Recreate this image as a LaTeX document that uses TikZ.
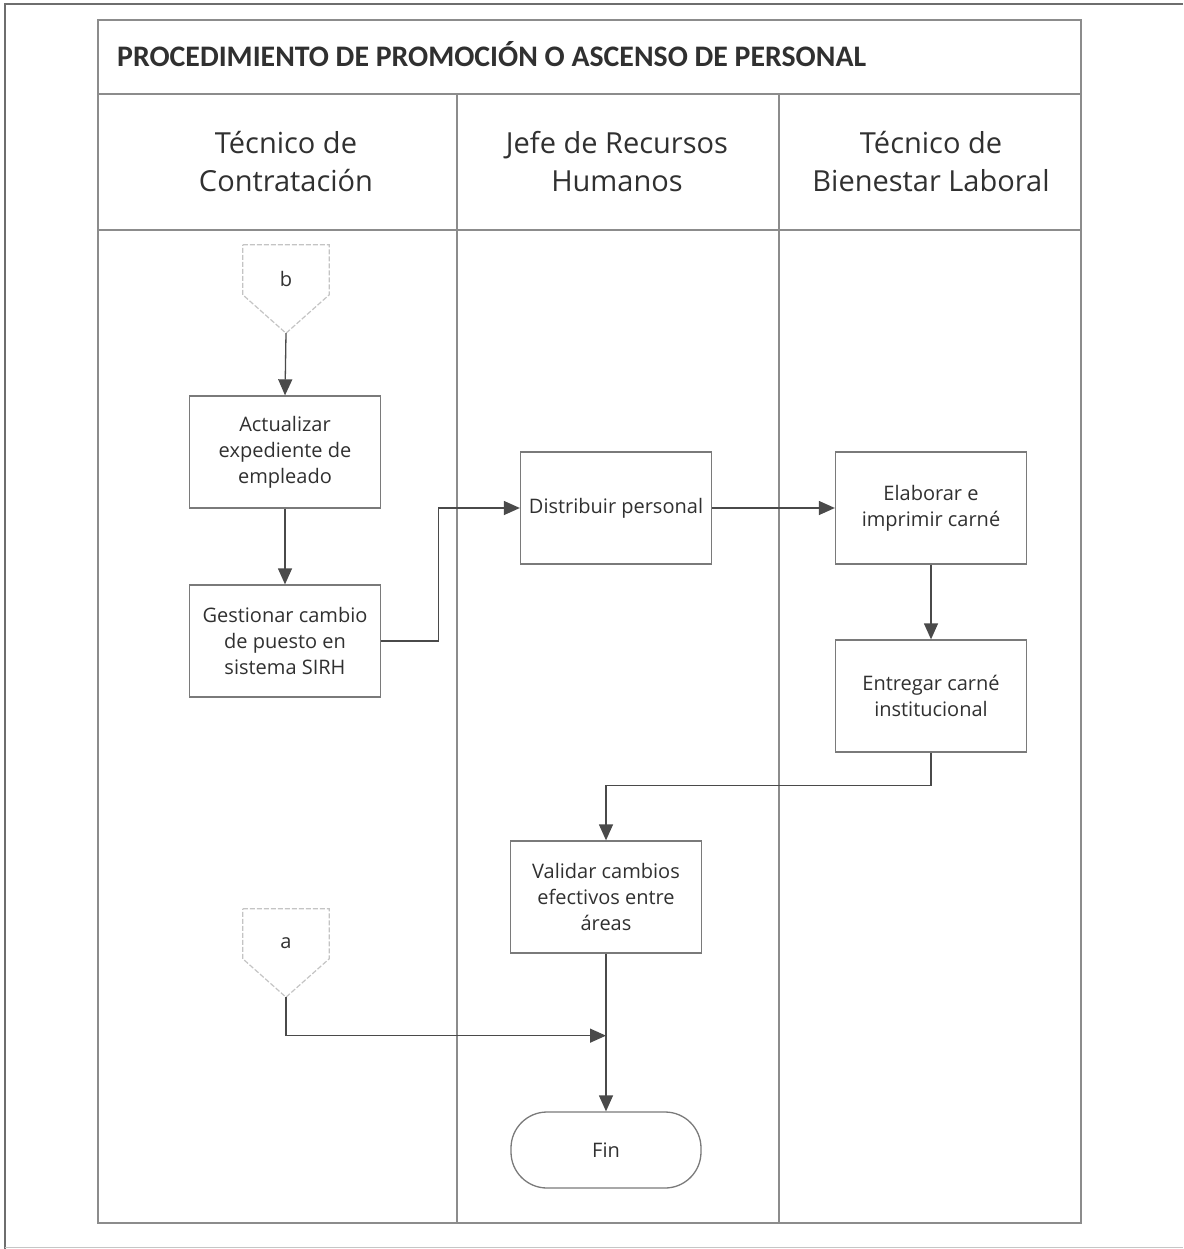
\documentclass[tikz,border=0pt]{standalone}
\usepackage{fontspec}
\setmainfont{Open Sans}
\newfontfamily\titlefont{Carlito}
\usetikzlibrary{arrows.meta,calc}
\definecolor{lanegray}{HTML}{8C8C8C}
\definecolor{boxgray}{HTML}{7A7A7A}
\definecolor{flowgray}{HTML}{4A4A4A}
\definecolor{inkgray}{HTML}{303030}
\definecolor{connectorgray}{HTML}{C4C4C4}
\definecolor{pagegray}{HTML}{6E6E6E}

\begin{document}
\begin{tikzpicture}[x=1pt,y=-1pt,
  lane/.style={draw=lanegray, line width=1.2pt},
  task/.style={draw=boxgray, line width=1.3pt, minimum width=191pt, minimum height=112pt,
    align=center, inner sep=0pt, text=inkgray,
    font=\fontsize{20}{26}\selectfont},
  terminal/.style={draw=boxgray, line width=1.3pt, minimum width=190pt, minimum height=76pt,
    rounded corners=36pt, inner sep=0pt, text=inkgray, font=\fontsize{20}{26}\selectfont},
  offpage/.style={inner sep=0pt, minimum width=86pt, minimum height=88pt},
  offpageline/.style={draw=connectorgray, line width=1.2pt, dash pattern=on 5pt off 2pt},
  flow/.style={draw=flowgray, line width=1.3pt, -{Triangle[length=16pt,width=14pt]}},
  header/.style={font=\fontsize{29}{38}\selectfont, align=center, text=inkgray},
  boxtext/.style={font=\fontsize{20}{26}\selectfont, text=inkgray, inner sep=0pt}
]
\useasboundingbox (0,0) rectangle (1183,1249);

% page edge
\draw[pagegray, line width=1.3pt] (5,1249) -- (5,4) -- (1183,4);
\draw[lanegray!50, line width=1pt] (5,1247) -- (1183,1247);

% pool and lanes
\draw[lane] (98,20) rectangle (1081,1223);
\draw[lane] (98,94) -- (1081,94);
\draw[lane] (98,230) -- (1081,230);
\draw[lane] (457,94) -- (457,1223);
\draw[lane] (779,94) -- (779,1223);

\node[anchor=base west, inner sep=0pt, text=inkgray,
  font=\titlefont\bfseries\fontsize{29.8}{34}\selectfont] (title) at (117,67)
  {PROCEDIMIENTO DE PROMOCIÓN O ASCENSO DE PERSONAL};

\node[header] (h1) at (286,162) {Técnico de\\Contratación};
\node[header] (h2) at (617,162) {Jefe de Recursos\\Humanos};
\node[header] (h3) at (931,162) {Técnico de\\Bienestar Laboral};

% off-page connector b
\node[offpage] (b) at (286,289) {};
\draw[offpageline] (b.north west) -- (b.north east) -- ($(b.north east)+(0,50)$)
  -- (b.south) -- ($(b.north west)+(0,50)$) -- cycle;
\node[boxtext] (blabel) at ($(b.north)+(0,34)$) {b};

% tasks
\node[task] (act) at (285,452) {Actualizar\\expediente de\\empleado};
\node[task] (ges) at (285,641) {Gestionar cambio\\de puesto en\\sistema SIRH};
\node[task] (dist) at (616,508) {Distribuir personal};
\node[task] (elab) at (931,508) {Elaborar e\\imprimir carné};
\node[task] (ent) at (931,696) {Entregar carné\\institucional};
\node[task] (val) at (606,897) {Validar cambios\\efectivos entre\\áreas};
\node[terminal] (fin) at (606,1150) {Fin};

% off-page connector a
\node[offpage] (a) at (286,953) {};
\draw[offpageline] (a.north west) -- (a.north east) -- ($(a.north east)+(0,50)$)
  -- (a.south) -- ($(a.north west)+(0,50)$) -- cycle;
\node[boxtext] (alabel) at ($(a.north)+(0,34)$) {a};

% flows
\draw[flow] (b.south) -- (act.north);
\draw[flow] (act.south) -- (ges.north);
\draw[flow] (ges.east) -- ++(57,0) |- (dist.west);
\draw[flow] (dist.east) -- (elab.west);
\draw[flow] (elab.south) -- (ent.north);
\draw[flow] (ent.south) -- ++(0,33) -| (val.north);
\draw[flow] (val.south) -- (fin.north);
\coordinate (join) at ($(val.south)!0.52!(fin.north)$);
\draw[flow] (a.south) |- (join);
\end{tikzpicture}
\end{document}
